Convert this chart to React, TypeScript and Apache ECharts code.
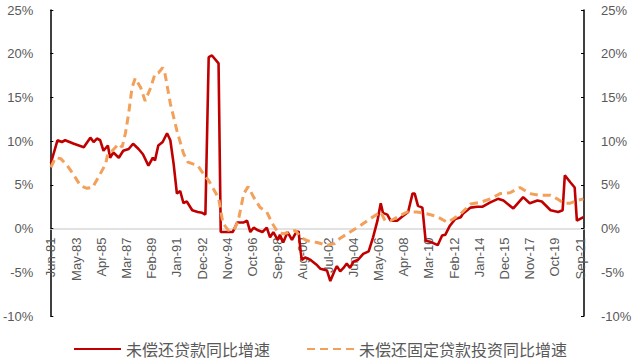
import React, { useEffect, useRef } from "react";
import * as echarts from "echarts";

// Monthly categories: Jun-81 ... Dec-21
const START_YEAR = 1981;
const START_MONTH = 6;
const MONTH_COUNT = 487;
const MONTH_NAMES = ["Jan", "Feb", "Mar", "Apr", "May", "Jun", "Jul", "Aug", "Sep", "Oct", "Nov", "Dec"];
const categories: string[] = Array.from({ length: MONTH_COUNT }, (_, i) => {
  const m = START_MONTH - 1 + i;
  const y = START_YEAR + Math.floor(m / 12);
  return `${MONTH_NAMES[m % 12]}-${String(y % 100).padStart(2, "0")}`;
});

const yTicks = [-10, -5, 0, 5, 10, 15, 20, 25];

const seriesNames = ["未偿还贷款同比增速", "未偿还固定贷款投资同比增速"];

// 未偿还贷款同比增速: month offset from Jun-81, value (%)
const loanMonth = [
  0, 6, 10, 13, 21, 30, 36, 39, 42, 45, 48, 52, 54, 57, 62, 66, 71, 75, 80, 84,
  89, 93, 95, 98, 102, 106, 109, 112, 115, 118, 121, 124, 129, 134, 138, 141, 144, 147, 153, 155,
  166, 170, 176, 179, 182, 185, 189, 193, 197, 200, 203, 207, 209, 212, 216, 220, 223, 226, 228, 229,
  232, 237, 243, 246, 252, 255, 259, 261, 264, 267, 270, 273, 276, 280, 285, 290, 294, 298, 301, 303,
  307, 310, 316, 321, 326, 330, 332, 335, 339, 342, 346, 353, 357, 360, 364, 369, 374, 376, 383, 389,
  394, 401, 408, 413, 422, 431, 437, 444, 448, 456, 463, 467, 469, 474, 478, 480, 483, 486,
];
const loanValue = [
  7.5, 10.1, 9.9, 10.1, 9.7, 9.3, 10.4, 9.9, 10.3, 10.1, 8.9, 9.5, 8.1, 8.7, 8.1, 8.9, 9.1, 9.7, 9.1, 8.5,
  7.2, 8.1, 7.8, 9.5, 9.9, 10.9, 10.1, 7.4, 4.0, 4.3, 2.9, 3.1, 2.1, 1.9, 1.8, 1.6, 19.6, 19.8, 18.9, -0.4,
  -0.4, 0.7, 0.7, 0.9, -0.4, 0.1, -0.2, -0.4, 0.1, -1.0, -0.4, -1.3, -0.7, -1.6, -0.4, -1.3, -0.6, -0.3, -2.7, -3.6,
  -3.3, -3.6, -4.2, -4.6, -4.8, -6.0, -4.8, -4.3, -4.9, -4.5, -4.0, -4.5, -3.8, -3.6, -2.9, -2.6, -1.0, 0.9, 2.9, 1.8,
  1.6, 0.9, 0.9, 1.4, 1.9, 4.0, 4.0, 2.6, 2.4, -1.4, -1.5, -1.9, -0.8, -0.7, 0.3, 1.1, 1.3, 1.7, 2.4, 2.5,
  2.5, 3.0, 3.4, 3.2, 2.3, 3.6, 2.9, 3.2, 3.1, 2.1, 1.9, 2.1, 6.1, 5.3, 4.7, 0.9, 1.1, 1.3,
];

// 未偿还固定贷款投资同比增速: month offset from Jun-81, value (%)
const fixedMonth = [
  0, 4, 9, 15, 21, 27, 33, 38, 43, 50, 52, 56, 59, 62, 65, 68, 71, 74, 77, 82,
  86, 91, 95, 98, 102, 104, 109, 115, 121, 125, 134, 139, 144, 153, 157, 162, 167, 171, 176, 180,
  185, 191, 197, 202, 207, 212, 218, 223, 228, 234, 243, 252, 259, 264, 273, 282, 291, 301, 305, 310,
  316, 325, 334, 343, 352, 362, 367, 374, 383, 392, 401, 410, 419, 428, 437, 446, 456, 462, 468, 474,
  480, 486,
];
const fixedValue = [
  7.0, 8.1, 8.0, 7.2, 6.1, 4.9, 4.6, 4.7, 5.8, 7.4, 8.6, 8.9, 9.3, 9.7, 9.3, 10.9, 13.2, 16.1, 17.2, 16.1,
  14.6, 16.1, 17.7, 17.8, 18.4, 17.8, 14.3, 11.2, 8.6, 7.6, 7.2, 6.3, 5.5, 3.5, 0.6, -0.2, -0.2, 0.9, 4.0, 4.8,
  3.6, 2.4, 1.9, 0.6, -0.4, -0.6, -0.4, -0.2, -1.0, -1.4, -1.6, -1.9, -1.7, -1.1, -0.4, 0.3, 1.1, 1.9, 0.9, 0.9,
  1.3, 1.9, 1.9, 1.7, 1.4, 0.7, 1.1, 1.7, 2.8, 3.0, 3.4, 4.0, 4.1, 4.7, 4.0, 3.8, 3.8, 3.4, 2.9, 2.9,
  3.2, 3.4,
];

const LABEL_FONT = "'Liberation Sans', Arial, sans-serif";
const CJK_FONT = "'Noto Sans CJK SC', sans-serif";

const GRID_TOP = 10;
const GRID_BOTTOM = 48;
const CHART_H = 364;

export default function App() {
  const ref = useRef<HTMLDivElement>(null);

  useEffect(() => {
    if (!ref.current) return;
    const chart = echarts.init(ref.current, undefined, { renderer: "svg" });

    const yMin = yTicks[0];
    const yMax = yTicks[yTicks.length - 1];
    const gridH = CHART_H - GRID_TOP - GRID_BOTTOM;
    // distance from bottom of grid up to the zero line
    const zeroOffset = ((0 - yMin) / (yMax - yMin)) * gridH;

    const yAxisCommon = {
      type: "value" as const,
      min: yMin,
      max: yMax,
      interval: 5,
      splitLine: { show: false },
      axisLine: { show: true, onZero: false, lineStyle: { color: "#000", width: 1.5 } },
      axisTick: { show: true, inside: true, length: 3, lineStyle: { color: "#000", width: 1 } },
      axisLabel: {
        formatter: "{value}%",
        color: "#595959",
        fontSize: 13,
        fontFamily: LABEL_FONT,
        margin: 17,
      },
    };

    chart.setOption({
      animation: false,
      grid: { left: 50, right: 56, top: GRID_TOP, bottom: GRID_BOTTOM, containLabel: false },
      legend: {
        top: 339,
        left: "center",
        padding: 0,
        itemWidth: 47,
        itemHeight: 3,
        itemGap: 36,
        itemStyle: { opacity: 0 },
        textStyle: { color: "#595959", fontSize: 16, lineHeight: 20, fontFamily: CJK_FONT },
        data: seriesNames,
      },
      xAxis: {
        type: "category",
        data: categories,
        boundaryGap: true,
        position: "bottom",
        offset: -zeroOffset,
        axisLine: {
          show: true,
          onZero: false,
          lineStyle: { color: "#d9d9d9", width: 1.5 },
        },
        axisTick: { show: false },
        splitLine: { show: false },
        axisLabel: {
          interval: 22,
          rotate: 90,
          color: "#595959",
          fontSize: 13,
          fontFamily: LABEL_FONT,
          margin: 9,
        },
      },
      yAxis: [
        { ...yAxisCommon, position: "left" },
        { ...yAxisCommon, position: "right" },
      ],
      series: [
        {
          name: seriesNames[0],
          type: "line",
          symbol: "none",
          data: loanMonth.map((m, k) => [m, loanValue[k]]),
          lineStyle: { color: "#C00000", width: 2.6 },
          itemStyle: { color: "#C00000" },
          z: 2,
        },
        {
          name: seriesNames[1],
          type: "line",
          symbol: "none",
          data: fixedMonth.map((m, k) => [m, fixedValue[k]]),
          lineStyle: { color: "#F2A05A", width: 3, type: [8, 5] },
          itemStyle: { color: "#F2A05A" },
          z: 3,
        },
      ],
    });

    return () => chart.dispose();
  }, []);

  return (
    <div
      ref={ref}
      style={{ position: "fixed", left: 0, top: 0, width: 640, height: 364, background: "#fff" }}
    />
  );
}
